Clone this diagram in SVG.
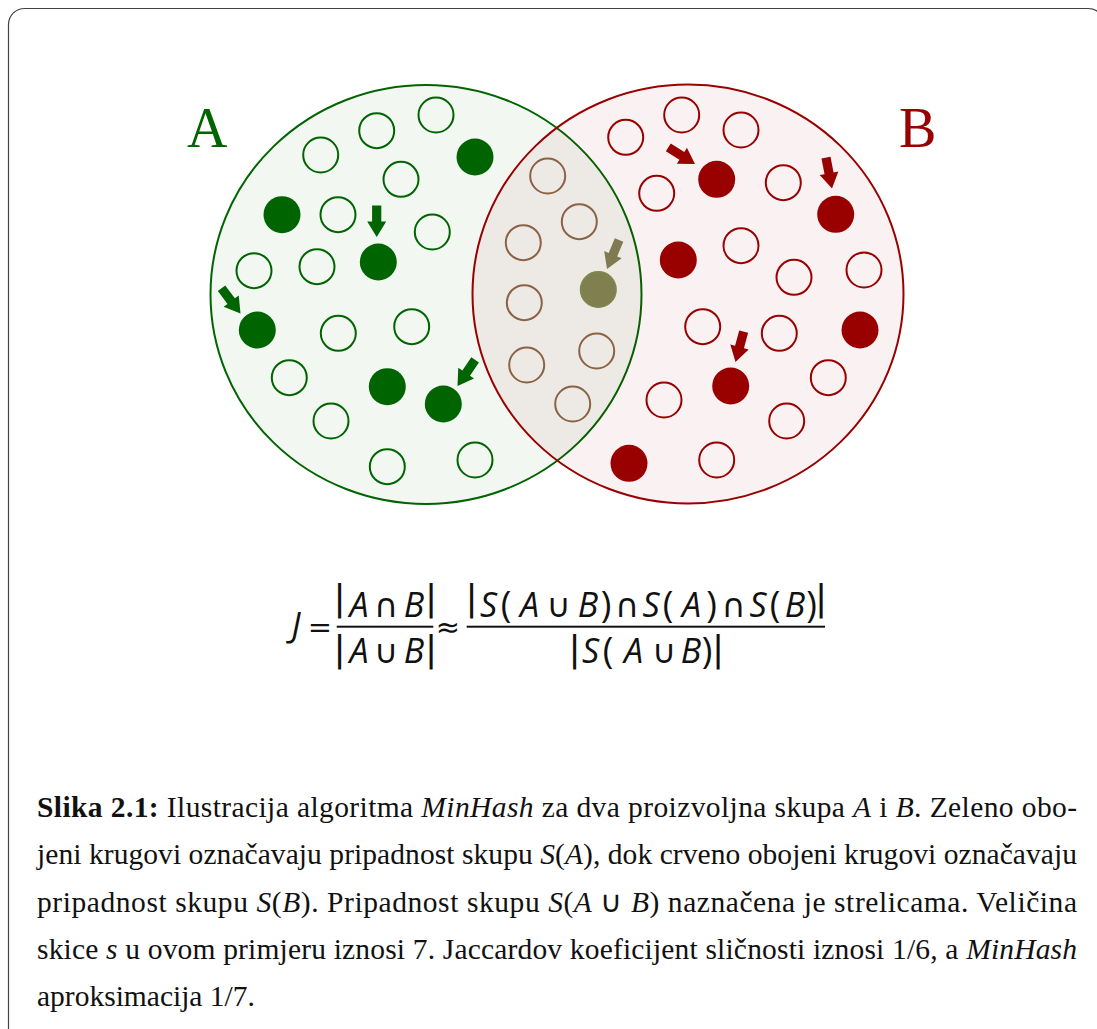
<svg xmlns="http://www.w3.org/2000/svg" xmlns:xlink="http://www.w3.org/1999/xlink" width="1097" height="1029" viewBox="0 0 1097 1029">
<style>
.bg{fill:#ffffff}
.frame{fill:none;stroke:#444444;stroke-width:1.2}
.setA{fill:#006400;fill-opacity:0.05;stroke:#006400;stroke-width:2}
.setB{fill:#990000;fill-opacity:0.05;stroke:#990000;stroke-width:2}
.gO{fill:none;stroke:#006400;stroke-width:2}
.gF{fill:#006400}
.rO{fill:none;stroke:#990000;stroke-width:2}
.rF{fill:#990000}
.bO{fill:none;stroke:#8b6243;stroke-width:2}
.oF{fill:#7f7f50;stroke:#7a8a4a;stroke-width:1.5}
.aG{fill:#006400}
.aR{fill:#990000}
.aO{fill:#7f7a50}
.lbl{font-family:"Liberation Serif",serif;font-size:56px}
.mi{font-family:"Open Sans","DejaVu Sans",sans-serif;font-style:italic;font-size:34px;font-weight:500;fill:#111}
.mo{font-family:"DejaVu Sans","Open Sans",sans-serif;font-style:normal;font-weight:normal;font-size:29px;fill:#111}
.ms{font-family:"DejaVu Sans","Open Sans",sans-serif;font-style:normal;font-weight:normal;font-size:33px;fill:#111}
.mp{font-family:"Open Sans","DejaVu Sans",sans-serif;font-style:normal;font-weight:normal;font-size:36px;fill:#111}
.bar{font-family:"DejaVu Sans",sans-serif;font-style:normal;font-weight:normal;font-size:36px;fill:#111}
.cap{font-family:"Liberation Serif",serif;font-size:29.5px;fill:#111}
.b{font-weight:bold}
.i{font-style:italic}
</style>
<defs>
<path id="arrow" d="M0,0 L-9.5,-15.5 L-4.6,-15.5 L-4.6,-31.5 L4.6,-31.5 L4.6,-15.5 L9.5,-15.5 Z"/>
</defs>
<rect class="bg" x="0" y="0" width="1097" height="1029"/>
<rect class="frame" x="8.5" y="8.5" width="1096" height="1100" rx="16" ry="16"/>

<g id="setA">
<ellipse class="setA" cx="426" cy="294.5" rx="215.5" ry="209.5"/>
<text class="lbl" x="187" y="147" fill="#006400">A</text>
</g>
<g id="setB">
<ellipse class="setB" cx="688" cy="294" rx="215.5" ry="209.5"/>
<text class="lbl" x="899" y="147" fill="#990000">B</text>
</g>

<g id="elementsA">
<circle class="gO" cx="320.7" cy="155" r="17.5"/>
<circle class="gO" cx="376.7" cy="130.7" r="17.5"/>
<circle class="gO" cx="436" cy="115" r="17.5"/>
<circle class="gO" cx="401" cy="179.3" r="17.5"/>
<circle class="gO" cx="338" cy="214.7" r="17.5"/>
<circle class="gO" cx="432.3" cy="232" r="17.5"/>
<circle class="gO" cx="254" cy="270.7" r="17.5"/>
<circle class="gO" cx="317" cy="266.7" r="17.5"/>
<circle class="gO" cx="338.3" cy="333.3" r="17.5"/>
<circle class="gO" cx="411.7" cy="326.7" r="17.5"/>
<circle class="gO" cx="289.3" cy="377.7" r="17.5"/>
<circle class="gO" cx="331" cy="421" r="17.5"/>
<circle class="gO" cx="387.3" cy="466.7" r="17.5"/>
<circle class="gO" cx="475" cy="460" r="17.5"/>
<circle class="gF" cx="475" cy="157" r="18.5"/>
<circle class="gF" cx="282" cy="214.7" r="18.5"/>
<circle class="gF" cx="378.3" cy="262" r="18.5"/>
<circle class="gF" cx="257.3" cy="330" r="18.5"/>
<circle class="gF" cx="387.3" cy="386.7" r="18.5"/>
<circle class="gF" cx="443.3" cy="404" r="18.5"/>
</g>

<g id="elementsAB">
<circle class="bO" cx="547.7" cy="176" r="17.5"/>
<circle class="bO" cx="579.3" cy="221.7" r="17.5"/>
<circle class="bO" cx="523.3" cy="242.7" r="17.5"/>
<circle class="bO" cx="524.3" cy="302.7" r="17.5"/>
<circle class="bO" cx="526.7" cy="365" r="17.5"/>
<circle class="bO" cx="596.7" cy="351" r="17.5"/>
<circle class="bO" cx="572.7" cy="404" r="17.5"/>
<circle class="oF" cx="598.3" cy="289.5" r="17.8"/>
</g>

<g id="elementsB">
<circle class="rO" cx="625.7" cy="137.3" r="17.5"/>
<circle class="rO" cx="681.7" cy="115" r="17.5"/>
<circle class="rO" cx="741" cy="130" r="17.5"/>
<circle class="rO" cx="656.7" cy="193.3" r="17.5"/>
<circle class="rO" cx="783.3" cy="182.7" r="17.5"/>
<circle class="rO" cx="741" cy="245.7" r="17.5"/>
<circle class="rO" cx="794" cy="277.3" r="17.5"/>
<circle class="rO" cx="864" cy="270" r="17.5"/>
<circle class="rO" cx="702.7" cy="326.7" r="17.5"/>
<circle class="rO" cx="779.3" cy="333.3" r="17.5"/>
<circle class="rO" cx="664" cy="400" r="17.5"/>
<circle class="rO" cx="828.3" cy="377.7" r="17.5"/>
<circle class="rO" cx="786.7" cy="421" r="17.5"/>
<circle class="rO" cx="716.7" cy="460" r="17.5"/>
<circle class="rF" cx="716.7" cy="179.3" r="18.5"/>
<circle class="rF" cx="835.7" cy="214.3" r="18.5"/>
<circle class="rF" cx="678.3" cy="260" r="18.5"/>
<circle class="rF" cx="860" cy="330" r="18.5"/>
<circle class="rF" cx="730.7" cy="386" r="18.5"/>
<circle class="rF" cx="629" cy="463.3" r="18.5"/>
</g>

<g id="connectors">
<use xlink:href="#arrow" class="aG" transform="translate(376.7,237) rotate(0)"/>
<use xlink:href="#arrow" class="aG" transform="translate(240.5,313.5) rotate(-37)"/>
<use xlink:href="#arrow" class="aG" transform="translate(457.5,386) rotate(34)"/>
<use xlink:href="#arrow" class="aO" transform="translate(607,269) rotate(22.5)"/>
<use xlink:href="#arrow" class="aR" transform="translate(695,164) rotate(-58)"/>
<use xlink:href="#arrow" class="aR" transform="translate(832,188.5) rotate(-11)"/>
<use xlink:href="#arrow" class="aR" transform="translate(735.5,362) rotate(15)"/>
</g>

<g id="formula">
<text class="mi" y="637" text-anchor="middle"><tspan x="296">J</tspan><tspan class="mo" x="320">=</tspan></text>
<rect x="336.7" y="625.7" width="96.6" height="2" fill="#111"/>
<text class="mi" y="617" text-anchor="middle"><tspan class="bar" x="339.5" y="610">|</tspan><tspan x="359" y="617">A</tspan><tspan class="ms" x="386">∩</tspan><tspan x="414">B</tspan><tspan class="bar" x="431" y="610">|</tspan></text>
<text class="mi" y="663" text-anchor="middle"><tspan class="bar" x="339.5" y="661">|</tspan><tspan x="359" y="663">A</tspan><tspan class="ms" x="386">∪</tspan><tspan x="414">B</tspan><tspan class="bar" x="431" y="661">|</tspan></text>
<text class="mo" x="448" y="637" text-anchor="middle">≈</text>
<rect x="466.7" y="625.7" width="358.3" height="2" fill="#111"/>
<text class="mi" y="617" text-anchor="middle"><tspan class="bar" x="471.5" y="610">|</tspan><tspan x="488.6" y="617">S</tspan><tspan class="mp" x="506">(</tspan><tspan x="529.5">A</tspan><tspan class="ms" x="558.7">∪</tspan><tspan x="588">B</tspan><tspan class="mp" x="606">)</tspan><tspan class="ms" x="627">∩</tspan><tspan x="651">S</tspan><tspan class="mp" x="668">(</tspan><tspan x="691.5">A</tspan><tspan class="mp" x="711.5">)</tspan><tspan class="ms" x="733.5">∩</tspan><tspan x="758">S</tspan><tspan class="mp" x="775">(</tspan><tspan x="795">B</tspan><tspan class="mp" x="811.5">)</tspan><tspan class="bar" x="821" y="610">|</tspan></text>
<text class="mi" y="663" text-anchor="middle"><tspan class="bar" x="574.5" y="661">|</tspan><tspan x="590.6" y="663">S</tspan><tspan class="mp" x="608">(</tspan><tspan x="633.5">A</tspan><tspan class="ms" x="664">∪</tspan><tspan x="691">B</tspan><tspan class="mp" x="707">)</tspan><tspan class="bar" x="718" y="661">|</tspan></text>
</g>

<g id="caption">
<text class="cap" x="37" y="817" textLength="1040" lengthAdjust="spacing"><tspan class="b">Slika 2.1:</tspan> Ilustracija algoritma <tspan class="i">MinHash</tspan> za dva proizvoljna skupa <tspan class="i">A</tspan> i <tspan class="i">B</tspan>. Zeleno obo-</text>
<text class="cap" x="37" y="864" textLength="1040" lengthAdjust="spacing">jeni krugovi označavaju pripadnost skupu <tspan class="i">S</tspan>(<tspan class="i">A</tspan>), dok crveno obojeni krugovi označavaju</text>
<text class="cap" x="37" y="911.5" textLength="1040" lengthAdjust="spacing">pripadnost skupu <tspan class="i">S</tspan>(<tspan class="i">B</tspan>). Pripadnost skupu <tspan class="i">S</tspan>(<tspan class="i">A</tspan> ∪ <tspan class="i">B</tspan>) naznačena je strelicama. Veličina</text>
<text class="cap" x="37" y="959" textLength="1040" lengthAdjust="spacing">skice <tspan class="i">s</tspan> u ovom primjeru iznosi 7. Jaccardov koeficijent sličnosti iznosi 1/6, a <tspan class="i">MinHash</tspan></text>
<text class="cap" x="37" y="1006">aproksimacija 1/7.</text>
</g>
</svg>
